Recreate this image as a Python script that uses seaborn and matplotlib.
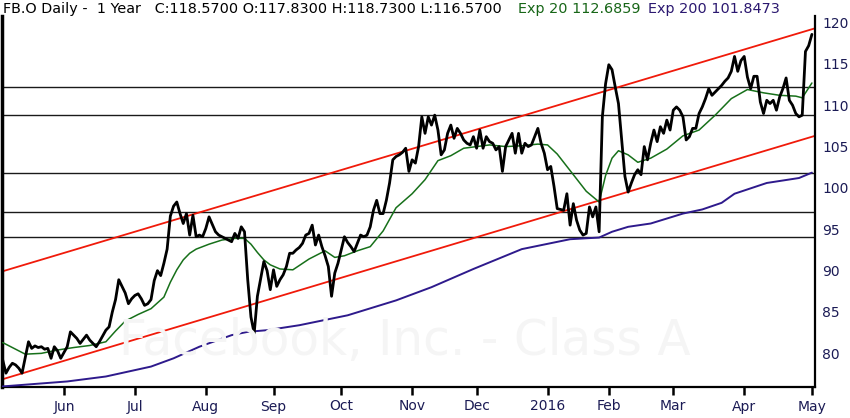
import numpy as np
import pandas as pd
import matplotlib
matplotlib.use("Agg")
import matplotlib.pyplot as plt
import seaborn as sns

# trading calendar (NYSE holidays in the window)
holidays = ["2015-05-25", "2015-07-03", "2015-09-07", "2015-11-26", "2015-12-25",
            "2016-01-01", "2016-01-18", "2016-02-15", "2016-03-25"]
dates = pd.bdate_range("2015-05-04", "2016-05-02", freq="C", holidays=holidays)

# daily close
close = [
    79.2, 77.6, 78.3, 78.8, 78.6, 78.2, 77.6, 79.5, 81.4, 80.6,
    80.9, 80.7, 80.8, 80.5, 80.6, 79.4, 80.8, 80.3, 79.4, 80.1,
    80.8, 82.6, 82.2, 81.8, 81.2, 81.7, 82.2, 81.6, 81.2, 80.8,
    81.4, 82.1, 82.8, 83.2, 85.0, 86.5, 88.9, 88.1, 87.3, 86.0,
    86.6, 87.0, 87.2, 86.6, 85.8, 86.0, 86.5, 88.8, 90.0, 89.4,
    90.9, 92.6, 96.6, 97.8, 98.3, 96.9, 95.7, 96.9, 94.3, 96.7,
    94.1, 94.3, 94.1, 95.1, 96.5, 95.6, 94.7, 94.3, 94.1, 93.9,
    93.7, 93.5, 94.5, 93.9, 95.3, 94.7, 88.9, 84.4, 82.4, 86.9,
    89.0, 91.1, 90.0, 87.7, 90.1, 88.1, 88.9, 89.5, 90.5, 92.1,
    92.1, 92.5, 92.8, 93.3, 94.3, 94.5, 95.5, 93.1, 94.3, 92.9,
    91.8, 90.5, 86.9, 89.7, 90.9, 92.5, 94.1, 93.4, 92.9, 92.3,
    93.3, 94.3, 94.1, 94.3, 95.3, 97.3, 98.5, 96.9, 96.9, 98.5,
    100.6, 103.4, 103.8, 104.0, 104.3, 104.8, 102.0, 103.4, 103.0, 105.0, 108.6,
    106.6, 108.6, 107.6, 108.8, 107.0, 104.0, 104.6, 106.6, 107.6, 106.0,
    107.2, 106.6, 105.8, 105.4, 105.2, 106.2, 104.8, 107.0, 104.8, 106.2,
    105.6, 105.4, 104.6, 105.0, 102.0, 105.0, 105.8, 106.6, 104.2, 106.6,
    104.2, 105.4, 105.0, 105.2, 106.2, 107.2, 105.4, 104.2, 102.2, 102.6,
    100.2, 97.5, 97.4, 97.3, 99.3, 95.5, 98.1, 96.1, 94.9, 94.3,
    94.5, 97.7, 96.5, 97.7, 94.7, 108.6, 112.6, 114.9, 114.3, 112.2,
    110.2, 105.8, 101.4, 99.5, 100.6, 101.6, 102.2, 101.6, 105.0, 103.4,
    105.4, 107.0, 105.6, 107.4, 106.6, 108.2, 107.0, 109.4, 109.8, 109.4,
    108.6, 105.8, 106.2, 107.2, 107.2, 109.0, 109.8, 110.8, 112.0, 111.2,
    111.6, 112.0, 112.4, 112.9, 113.3, 114.1, 115.9, 114.1, 115.4, 115.9,
    113.4, 112.0, 113.5, 113.5, 110.4, 109.0, 110.6, 110.2, 110.6, 109.4,
    111.0, 112.0, 113.3, 110.6, 110.0, 109.0, 108.6, 108.8, 116.5, 117.2,
    118.57,
]

# moving averages sampled along the trading days
ema20_day = [0, 3, 7, 12, 17, 22, 27, 32, 35, 38, 42, 46, 50, 52, 54, 56, 58, 60, 64, 68,
             72, 75, 77, 79, 81, 83, 86, 90, 95, 100, 103, 106, 110, 114, 118, 122, 127, 131,
             135, 139, 143, 147, 151, 156, 161, 166, 169, 172, 176, 181, 185, 187, 189, 191,
             194, 197, 201, 206, 211, 216, 221, 226, 231, 236, 241, 246, 248, 251]
ema20 = [81.3, 80.7, 79.9, 80.0, 80.4, 80.7, 80.95, 81.4, 82.7, 83.9, 84.7, 85.4, 86.8, 88.6,
         90.1, 91.3, 92.1, 92.6, 93.2, 93.7, 93.9, 93.9, 93.2, 92.2, 91.3, 90.7, 90.2, 90.1,
         91.4, 92.4, 91.6, 91.8, 92.4, 92.9, 94.8, 97.6, 99.3, 101.0, 103.3, 103.9, 104.8,
         105.0, 105.2, 105.0, 105.1, 105.3, 105.2, 104.1, 102.1, 99.6, 98.3, 101.5, 103.6,
         104.5, 104.0, 103.1, 103.6, 104.7, 106.3, 107.0, 108.8, 110.8, 111.9, 111.5, 111.2,
         111.1, 110.9, 112.69]

ema200_day = [0, 20, 32, 46, 53, 61, 71, 76, 82, 92, 107, 122, 133, 146, 161, 171, 176, 185,
              189, 194, 201, 211, 217, 223, 227, 237, 247, 251]
ema200 = [76.0, 76.6, 77.2, 78.4, 79.4, 80.8, 82.2, 82.6, 82.8, 83.4, 84.6, 86.4, 88.0, 90.2,
          92.6, 93.4, 93.8, 94.0, 94.7, 95.3, 95.7, 96.9, 97.4, 98.2, 99.3, 100.6, 101.2, 101.85]

# horizontal levels and trend channel (start/end values)
levels = [112.25, 108.85, 101.77, 97.12, 94.03]
channel_upper = [89.9, 119.3]
channel_lower = [76.85, 106.3]

navy = "#1b1b55"

df = pd.DataFrame({"day": np.arange(len(dates)), "close": close})
e20 = pd.DataFrame({"day": ema20_day, "value": ema20})
e200 = pd.DataFrame({"day": ema200_day, "value": ema200})

sns.set_style("white")
fig = plt.figure(figsize=(8.5, 4.18), dpi=100)
ax = fig.add_axes([2 / 850, 31 / 418, 813 / 850, 371 / 418])
xlim = (-0.22, 251.96)
ax.set_xlim(xlim)
ax.set_ylim(75.93, 120.79)

# watermark
fig.text(405 / 850, 0.185, "Facebook, Inc. - Class A", fontsize=35, color="#f5f5f5",
         ha="center", va="center", zorder=0)

for lv in levels:
    ax.axhline(lv, color="#1a1a1a", lw=1.0, zorder=1)

ax.plot(xlim, channel_upper, color="#f01a0a", lw=1.3, zorder=2)
ax.plot(xlim, channel_lower, color="#f01a0a", lw=1.3, zorder=2)

sns.lineplot(data=e200, x="day", y="value", ax=ax, color="#2e1a8c", lw=1.4, zorder=3)
sns.lineplot(data=e20, x="day", y="value", ax=ax, color="#17701a", lw=1.1, zorder=4)
sns.lineplot(data=df, x="day", y="close", ax=ax, color="black", lw=2.0, zorder=5)

# month ticks at first trading day of each month
first = df.groupby(dates.to_period("M"))["day"].first().iloc[1:]
labels = ["2016" if p.month == 1 else p.strftime("%b") for p in first.index]
ax.set_xticks(first.values)
ax.set_xticklabels(labels)
ax.set_yticks(range(80, 121, 5))
ax.yaxis.tick_right()
ax.set_xlabel("")
ax.set_ylabel("")

ax.tick_params(axis="x", direction="out", length=6, width=1.8, color="black",
               labelsize=10, labelcolor=navy, pad=3, bottom=True)
ax.tick_params(axis="y", length=0, labelsize=10, labelcolor=navy, pad=5,
               right=True, left=False, labelright=True, labelleft=False)

ax.spines["top"].set_visible(False)
ax.spines["right"].set_color("black")
ax.spines["right"].set_linewidth(1.6)
ax.spines["bottom"].set_color("black")
ax.spines["bottom"].set_linewidth(1.6)
ax.spines["left"].set_color("black")
ax.spines["left"].set_linewidth(2.5)

# header texts
fig.text(3 / 850, 1 - 9 / 418, "FB.O Daily -  1 Year   C:118.5700 O:117.8300 H:118.7300 L:116.5700",
         fontsize=10.4, color="black", va="center")
fig.text(518 / 850, 1 - 9 / 418, "Exp 20 112.6859", fontsize=10.4, color="#176617", va="center")
fig.text(648 / 850, 1 - 9 / 418, "Exp 200 101.8473", fontsize=10.4, color="#2b1870", va="center")

fig.savefig("out.png", dpi=100)
plt.close(fig)
